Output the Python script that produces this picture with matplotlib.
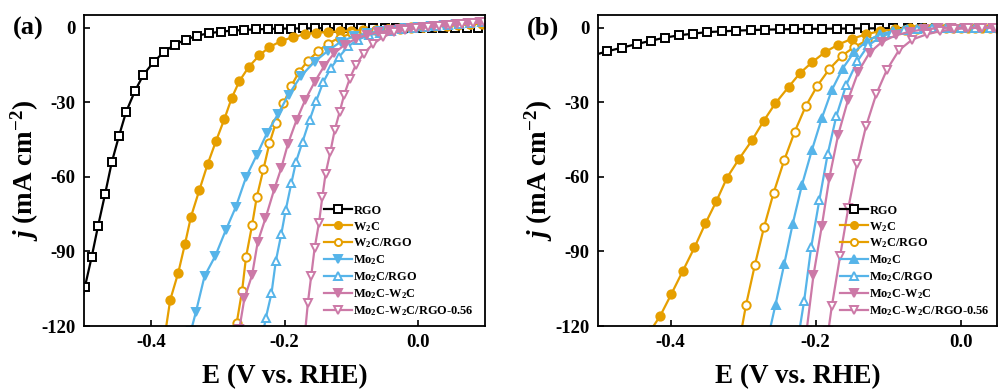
import matplotlib
matplotlib.use("Agg")
import matplotlib.pyplot as plt
from matplotlib.ticker import MultipleLocator

plt.rcParams["font.family"] = ["Liberation Serif", "DejaVu Serif"]
plt.rcParams["font.weight"] = "bold"
plt.rcParams["axes.unicode_minus"] = False
plt.rcParams["mathtext.fontset"] = "custom"
plt.rcParams["mathtext.rm"] = "Liberation Serif:bold"
plt.rcParams["mathtext.it"] = "Liberation Serif:italic:bold"
plt.rcParams["mathtext.bf"] = "Liberation Serif:bold"

LABELS = ["RGO", "W$_2$C", "W$_2$C/RGO", "Mo$_2$C", "Mo$_2$C/RGO",
          "Mo$_2$C-W$_2$C", "Mo$_2$C-W$_2$C/RGO-0.56"]

# ---- panel (a) ----
a_rgo_x = [-0.508, -0.4986, -0.4885, -0.479, -0.4686, -0.4585, -0.4476, -0.437, -0.424, -0.411,
           -0.396, -0.381, -0.364, -0.3475, -0.3305, -0.3136, -0.2956, -0.2776, -0.26, -0.2425,
           -0.2245, -0.2075, -0.19, -0.1725, -0.155, -0.1375, -0.12, -0.1025, -0.085, -0.0675,
           -0.05, -0.0325, -0.015, 0.0025, 0.02, 0.0375, 0.055, 0.0725, 0.09]
a_rgo_j = [-116, -104.2, -92.2, -79.8, -67.1, -54.2, -43.5, -33.9, -25.6, -18.9,
           -13.9, -9.9, -6.8, -4.8, -3.2, -2.3, -1.6, -1.2, -0.9, -0.7,
           -0.5, -0.4, -0.35, -0.3, -0.25, -0.2, -0.2, -0.15, -0.1, -0.1,
           -0.05, 0, 0, 0, 0, 0, 0, 0, 0]

a_w2c_x = [-0.378, -0.371, -0.359, -0.349, -0.340, -0.3275, -0.315, -0.3025, -0.290, -0.279,
           -0.2675, -0.2535, -0.2375, -0.2225, -0.205, -0.1875, -0.170, -0.1525, -0.135, -0.1175,
           -0.1, -0.0825, -0.0635, -0.045, -0.0275, -0.01, 0.0075, 0.025, 0.0425, 0.06, 0.0775, 0.095]
a_w2c_j = [-122, -109.5, -98.6, -87.1, -76.1, -65.4, -54.9, -45.6, -36.8, -28.3,
           -21.5, -15.8, -11.1, -7.8, -5.4, -3.8, -2.7, -2.0, -1.8, -1.5,
           -1.2, -1.1, -1.0, -0.7, -0.4, -0.1, 0.2, 0.5, 0.8, 1.1, 1.3, 1.6]

a_w2crgo_x = [-0.2716, -0.2635, -0.2575, -0.2485, -0.2416, -0.2315, -0.2225, -0.2128, -0.2015,
              -0.1902, -0.1782, -0.165, -0.1497, -0.1347, -0.1175, -0.0995, -0.0815, -0.0635,
              -0.045, -0.027, -0.01, 0.0075, 0.025, 0.0425, 0.06, 0.0775, 0.095]
a_w2crgo_j = [-118.9, -105.9, -92.2, -79.4, -68.3, -56.9, -46.5, -38.2, -30.5,
              -23.6, -17.8, -13.3, -9.5, -6.4, -4.0, -2.3, -1.5, -1.1,
              -0.6, -0.2, 0.1, 0.4, 0.7, 1.0, 1.3, 1.6, 1.9]

a_mo2c_x = [-0.34, -0.3325, -0.3196, -0.3035, -0.2878, -0.2728, -0.2575, -0.2413, -0.2263, -0.2098,
            -0.194, -0.1752, -0.155, -0.135, -0.116, -0.0965, -0.077, -0.0575, -0.038, -0.019,
            0.0, 0.019, 0.038, 0.057, 0.076, 0.095]
a_mo2c_j = [-122, -114.3, -99.9, -91.8, -81.4, -72.1, -60.1, -51.1, -42.5, -34.8,
            -27.0, -19.4, -13.7, -9.3, -5.7, -3.5, -2.3, -1.5, -0.8, -0.3,
            0.1, 0.5, 0.9, 1.3, 1.7, 2.1]

a_mo2crgo_x = [-0.2315, -0.228, -0.2195, -0.213, -0.2048, -0.1982, -0.1898, -0.1828, -0.173, -0.1625,
               -0.1527, -0.1422, -0.131, -0.1182, -0.1047, -0.09, -0.074, -0.0575, -0.041, -0.024,
               -0.007, 0.01, 0.027, 0.044, 0.061, 0.078, 0.095]
a_mo2crgo_j = [-122, -116.8, -106.9, -93.9, -83.0, -73.4, -62.6, -54.0, -45.9, -37.2,
               -29.6, -22.0, -16.4, -11.7, -7.5, -4.8, -3.1, -2.1, -1.3, -0.7,
               -0.2, 0.2, 0.6, 1.0, 1.4, 1.8, 2.2]

a_mow_x = [-0.2675, -0.26, -0.2485, -0.24, -0.2285, -0.215, -0.205, -0.1948, -0.182, -0.1692,
           -0.155, -0.1407, -0.1257, -0.11, -0.0934, -0.077, -0.0603, -0.044, -0.027, -0.01,
           0.007, 0.024, 0.041, 0.058, 0.075, 0.092]
a_mow_j = [-121, -108.9, -99.5, -86.1, -76.7, -64.7, -56.6, -46.7, -37.2, -29.2,
           -21.9, -15.5, -10.3, -6.9, -4.5, -2.9, -1.9, -1.1, -0.5, 0.0,
           0.4, 0.8, 1.2, 1.6, 2.0, 2.4]

a_mowrgo_x = [-0.169, -0.165, -0.16, -0.155, -0.1485, -0.1434, -0.1385, -0.1314, -0.125, -0.1175,
              -0.1107, -0.1025, -0.0935, -0.0815, -0.068, -0.053, -0.0365, -0.02, -0.003, 0.014,
              0.031, 0.048, 0.065, 0.082, 0.099]
a_mowrgo_j = [-122, -110.6, -99.8, -88.8, -78.7, -68.1, -58.7, -50.0, -41.3, -33.9,
              -27.0, -20.6, -15.1, -10.4, -6.7, -3.8, -1.9, -0.9, -0.3, 0.2,
              0.6, 1.0, 1.4, 1.8, 2.2]

# ---- panel (b) ----
b_rgo_x = [-0.505, -0.487, -0.4664, -0.4467, -0.4275, -0.4078, -0.3886, -0.3688, -0.3496, -0.329,
           -0.3093, -0.2891, -0.2694, -0.2498, -0.2305, -0.211, -0.191, -0.171, -0.152, -0.132,
           -0.112, -0.093, -0.073, -0.053, -0.034, -0.014, 0.006, 0.025, 0.045]
b_rgo_j = [-11.0, -9.5, -8.0, -6.6, -5.3, -4.0, -3.1, -2.4, -1.8, -1.5,
           -1.2, -1.0, -0.8, -0.7, -0.6, -0.5, -0.45, -0.4, -0.35, -0.3,
           -0.25, -0.2, -0.15, -0.1, -0.1, -0.05, 0, 0, 0]

b_w2c_x = [-0.428, -0.4144, -0.399, -0.383, -0.367, -0.3519, -0.3368, -0.3221, -0.3058, -0.2877,
           -0.2718, -0.2557, -0.2374, -0.2213, -0.2044, -0.1869, -0.1687, -0.1494, -0.1306, -0.1113,
           -0.0907, -0.07, -0.05, -0.03, -0.01, 0.01, 0.03, 0.05]
b_w2c_j = [-122, -116.0, -107.2, -97.8, -88.4, -78.7, -69.8, -60.3, -52.9, -45.3,
           -37.6, -30.5, -23.9, -18.2, -13.8, -9.8, -6.8, -4.4, -2.7, -1.4,
           -0.7, -0.3, -0.1, 0, 0, 0, 0, 0]

b_w2crgo_x = [-0.3025, -0.296, -0.2838, -0.2711, -0.258, -0.2433, -0.2289, -0.2137, -0.1975, -0.181,
              -0.164, -0.1471, -0.1288, -0.1113, -0.094, -0.077, -0.06, -0.04, -0.02, 0.0, 0.02, 0.04]
b_w2crgo_j = [-122, -111.6, -95.5, -80.2, -66.5, -53.3, -41.9, -31.6, -23.3, -16.6,
              -11.4, -7.8, -5.1, -3.1, -1.8, -1.0, -0.5, -0.2, 0, 0, 0, 0]

b_mo2c_x = [-0.2635, -0.2553, -0.2433, -0.2316, -0.219, -0.2052, -0.1915, -0.1777, -0.1629, -0.1471,
            -0.1296, -0.1113, -0.093, -0.074, -0.055, -0.036, -0.017, 0.002, 0.021, 0.04]
b_mo2c_j = [-122, -111.4, -95.1, -78.9, -63.4, -49.3, -36.4, -25.1, -16.5, -9.9,
            -5.4, -2.7, -1.4, -0.7, -0.3, -0.1, 0, 0, 0, 0]

b_mo2crgo_x = [-0.2225, -0.2158, -0.2062, -0.1948, -0.1835, -0.1715, -0.1577, -0.1425, -0.1274, -0.1113,
               -0.095, -0.078, -0.06, -0.04, -0.02, 0.0, 0.02, 0.04]
b_mo2crgo_j = [-122, -109.8, -88.4, -69.2, -51.0, -35.6, -22.9, -13.5, -7.1, -3.9,
               -2.0, -1.0, -0.4, -0.1, 0, 0, 0, 0]

b_mow_x = [-0.2125, -0.203, -0.1915, -0.181, -0.169, -0.1553, -0.1412, -0.1255, -0.108, -0.0894,
           -0.07, -0.051, -0.032, -0.013, 0.006, 0.025, 0.044]
b_mow_j = [-122, -99.6, -79.8, -60.3, -43.2, -29.0, -17.7, -10.0, -5.6, -3.1,
           -1.6, -0.7, -0.2, 0, 0, 0, 0]

b_mowrgo_x = [-0.1825, -0.1777, -0.1663, -0.1549, -0.143, -0.1306, -0.1164, -0.1017, -0.0852, -0.0669,
              -0.0471, -0.028, -0.009, 0.01, 0.029, 0.048]
b_mowrgo_j = [-122, -112.0, -91.9, -72.4, -54.9, -39.7, -26.7, -16.9, -9.1, -4.8,
              -2.7, -1.4, -0.6, -0.2, 0, 0]

BLACK = "#000000"
ORANGE = "#E69F00"
BLUE = "#56B4E9"
PINK = "#CC79A7"

STYLES = [
    dict(color=BLACK, marker="s", mfc="white"),
    dict(color=ORANGE, marker="o", mfc=ORANGE),
    dict(color=ORANGE, marker="o", mfc="white"),
    None,  # Mo2C: marker differs per panel
    dict(color=BLUE, marker="^", mfc="white"),
    dict(color=PINK, marker="v", mfc=PINK),
    dict(color=PINK, marker="v", mfc="white"),
]


def draw_panel(ax, series, mo2c_marker, xlim, tag, legend_anchor):
    for i, (xs, js) in enumerate(series):
        st = STYLES[i] if STYLES[i] is not None else dict(color=BLUE, marker=mo2c_marker, mfc=BLUE)
        ax.plot(xs, js, color=st["color"], marker=st["marker"], markerfacecolor=st["mfc"],
                markeredgecolor=st["color"], markersize=6.0, markeredgewidth=1.4,
                linewidth=1.6, label=LABELS[i], clip_on=True)
    ax.set_xlim(*xlim)
    ax.set_ylim(-120, 5)
    ax.xaxis.set_major_locator(MultipleLocator(0.2))
    ax.yaxis.set_major_locator(MultipleLocator(30))
    ax.xaxis.set_major_formatter(plt.FuncFormatter(lambda v, p: f"{v:.1f}"))
    ax.tick_params(direction="in", length=4, width=1.2, labelsize=13.5, pad=6)
    for lab in ax.get_xticklabels() + ax.get_yticklabels():
        lab.set_fontweight("bold")
    for sp in ax.spines.values():
        sp.set_linewidth(1.3)
    ax.set_xlabel("E (V vs. RHE)", fontsize=19.5, fontweight="bold", labelpad=9)
    ax.set_ylabel(r"$j$ (mA cm$^{-2}$)", fontsize=19.5, fontweight="bold", labelpad=0)
    ax.legend(loc="lower right", bbox_to_anchor=legend_anchor, frameon=False, fontsize=8.9,
              handlelength=2.3, handletextpad=0.1, labelspacing=0.25, borderaxespad=0.0,
              markerscale=0.85)
    ax.text(-0.178, 0.995, tag, transform=ax.transAxes, fontsize=19, fontweight="bold",
            ha="left", va="top")


fig = plt.figure(figsize=(10, 3.9), dpi=100)
ax_a = fig.add_axes([0.084, 0.164, 0.401, 0.797])
ax_b = fig.add_axes([0.598, 0.164, 0.399, 0.797])

series_a = [(a_rgo_x, a_rgo_j), (a_w2c_x, a_w2c_j), (a_w2crgo_x, a_w2crgo_j),
            (a_mo2c_x, a_mo2c_j), (a_mo2crgo_x, a_mo2crgo_j), (a_mow_x, a_mow_j),
            (a_mowrgo_x, a_mowrgo_j)]
series_b = [(b_rgo_x, b_rgo_j), (b_w2c_x, b_w2c_j), (b_w2crgo_x, b_w2crgo_j),
            (b_mo2c_x, b_mo2c_j), (b_mo2crgo_x, b_mo2crgo_j), (b_mow_x, b_mow_j),
            (b_mowrgo_x, b_mowrgo_j)]

draw_panel(ax_a, series_a, "v", (-0.5, 0.1), "(a)", (0.985, 0.01))
draw_panel(ax_b, series_b, "^", (-0.5, 0.05), "(b)", (0.995, 0.01))

fig.savefig("out.png", dpi=100)
